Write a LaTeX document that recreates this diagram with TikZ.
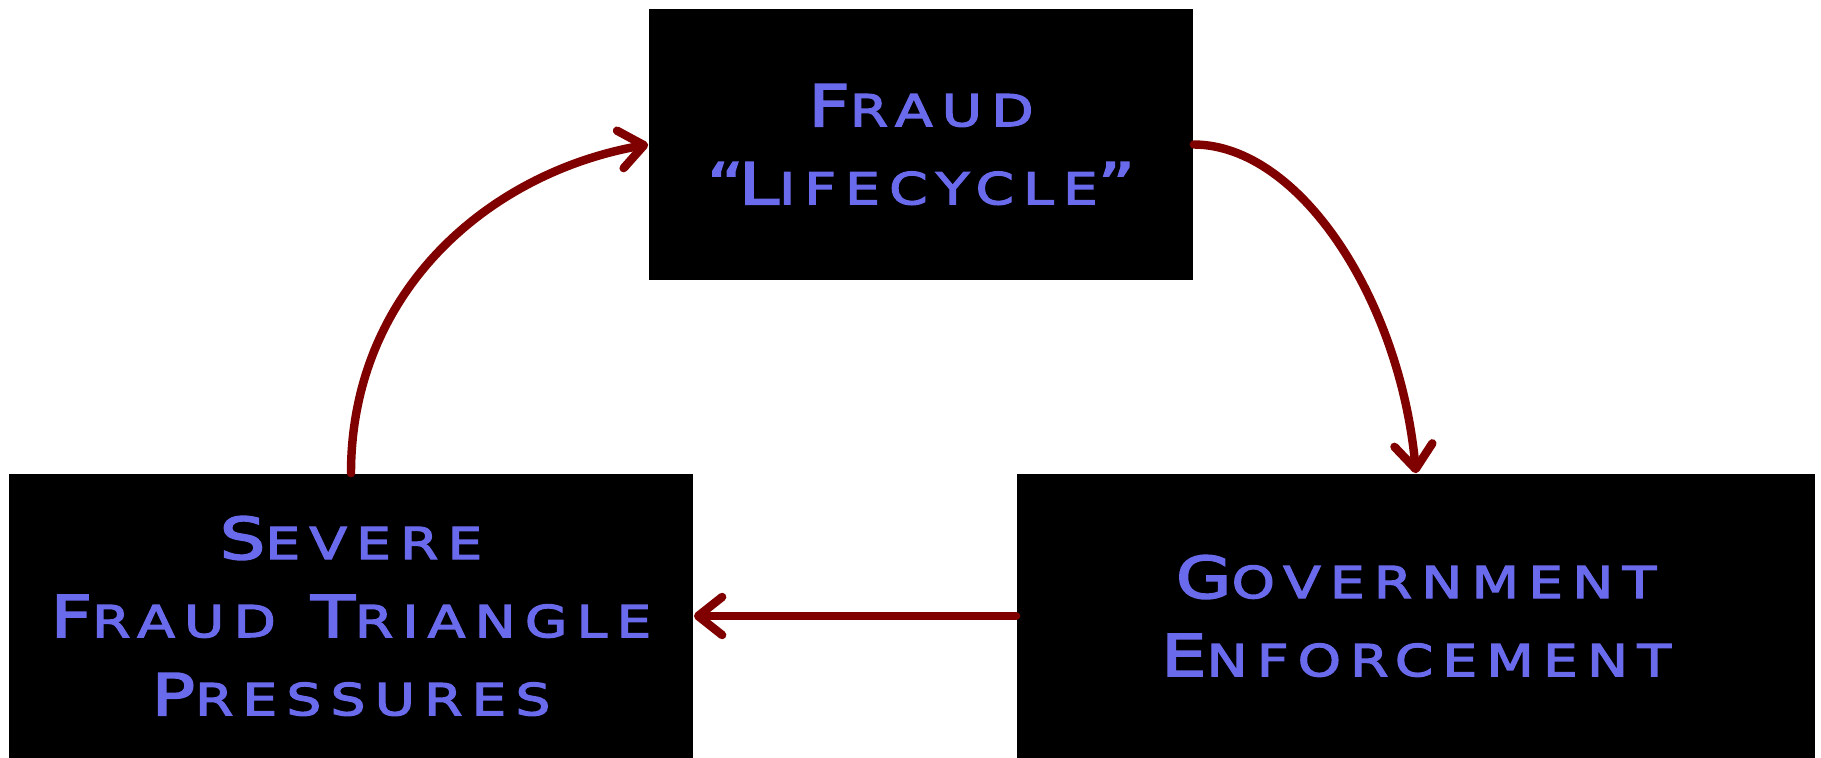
\documentclass[tikz,border=0pt]{standalone}
\usepackage{fontspec}
\usetikzlibrary{arrows.meta}
\newfontfamily\cpfont[FakeStretch=1.25,LetterSpace=21,FakeBold=3]{DejaVu Sans}
\definecolor{txtblue}{RGB}{106,106,236}
\definecolor{arrred}{RGB}{128,0,0}
\newcommand\capw[2]{{\fontsize{16.4}{22.2}\selectfont #1}{\fontsize{12.5}{22.2}\selectfont #2}}
\tikzset{
  blackbox/.style={fill=black,draw=none,inner sep=0pt,align=center,text=txtblue,
    font=\cpfont\fontsize{16.4}{22.2}\selectfont},
  cyclearrow/.style={draw=arrred,line width=2.4pt,line cap=round,
    -{Straight Barb[length=2.4mm,width=3.8mm,round]}}
}
\begin{document}
\begin{tikzpicture}[x=0.01cm,y=-0.01cm]
\useasboundingbox (0,0) rectangle (1821,758);
\node[blackbox,minimum width=5.44cm,minimum height=2.71cm] (top) at (921,144.5)
  {\capw{F}{RAUD}\\\capw{“\kern-1.5pt L}{IFECYCLE}{\fontsize{16.4}{22.2}\selectfont ”}};
\node[blackbox,minimum width=6.84cm,minimum height=2.84cm] (left) at (351,616)
  {\capw{S}{EVERE}\\\capw{F}{RAUD} \capw{T}{RIANGLE}\\\capw{P}{RESSURES}};
\node[blackbox,minimum width=7.98cm,minimum height=2.84cm] (right) at (1416,616)
  {\capw{G}{OVERNMENT}\\\capw{E}{NFORCEMENT}};
\draw[cyclearrow] (top.east) .. controls (1300,145) and (1400,300) .. (right.north);
\draw[cyclearrow] (right.west) -- (left.east);
\draw[cyclearrow] (left.north) .. controls (351,293) and (487,173) .. (top.west);
\end{tikzpicture}
\end{document}
